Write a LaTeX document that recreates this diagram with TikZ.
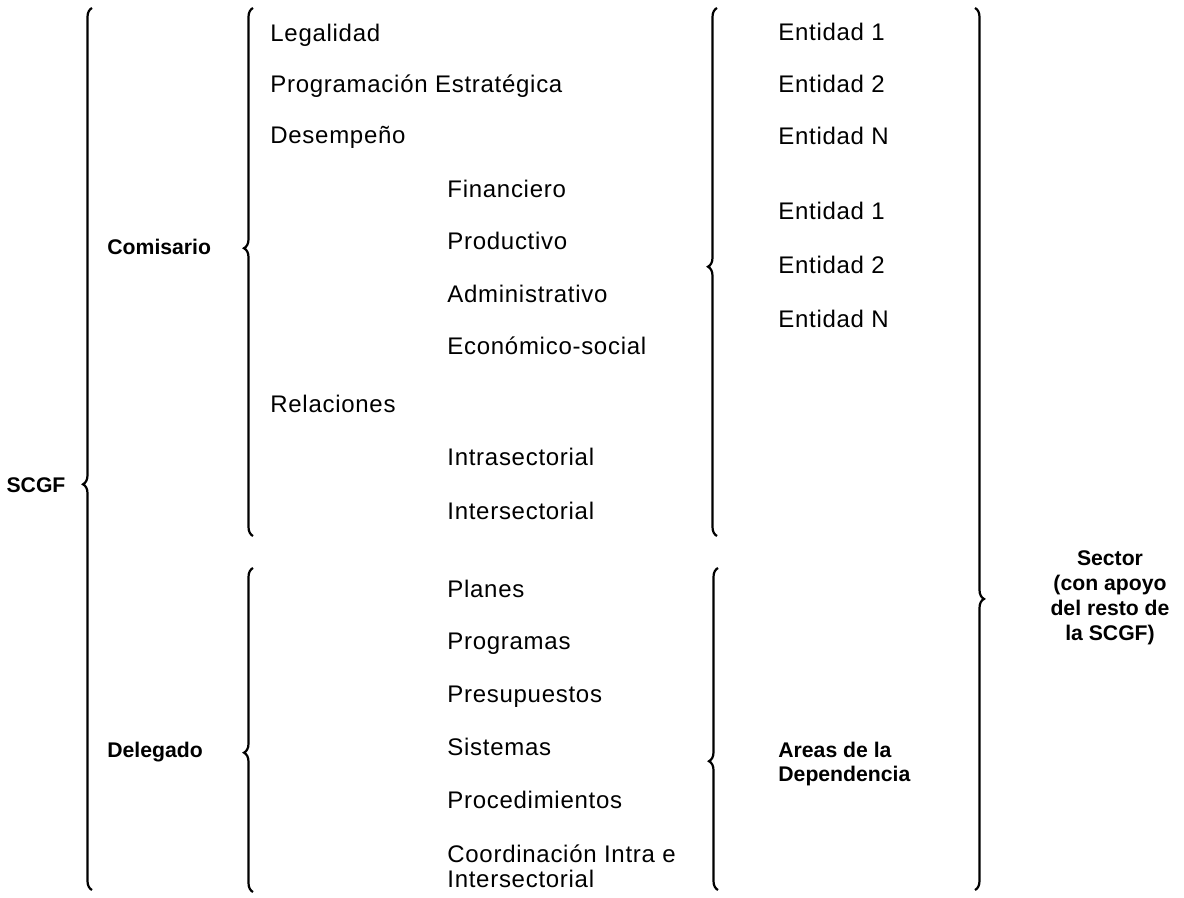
\documentclass[tikz,border=0pt]{standalone}
\usepackage{fontspec}
\setmainfont{Liberation Sans}[LetterSpace=3,BoldFeatures={LetterSpace=0}]
\usetikzlibrary{decorations.pathreplacing}

\begin{document}
\begin{tikzpicture}[x=0.5pt,y=-0.5pt,font=\fontsize{12}{12.5}\selectfont,
  item/.style={anchor=mid west,inner sep=0pt},
  head/.style={font=\fontsize{10.6}{11.6}\selectfont\bfseries,inner sep=0pt}]
\tikzstyle{bracel} = [line width=1.1pt,decorate,decoration={brace,amplitude=4.5pt}]

\useasboundingbox (0,0) rectangle (1184,898);

% labels on the left
\node (scgf) at (36,485) [head] {SCGF};
\node (com) at (107,249) [head,anchor=mid west] {Comisario};
\node (del) at (107,752) [head,anchor=mid west] {Delegado};

% second column
\node (leg) at (270,36) [item] {Legalidad};
\node (prog) at (270,87) [item] {Programación Estratégica};
\node (des) at (270,138) [item] {Desempeño};
\node (fin) at (447,192) [item] {Financiero};
\node (prod) at (447,244) [item] {Productivo};
\node (adm) at (447,297) [item] {Administrativo};
\node (eco) at (447,349) [item] {Económico-social};
\node (rel) at (270,407) [item] {Relaciones};
\node (intra) at (447,460) [item] {Intrasectorial};
\node (inter) at (447,514) [item] {Intersectorial};
\node (plan) at (447,592) [item] {Planes};
\node (pgm) at (447,644) [item] {Programas};
\node (pres) at (447,697) [item] {Presupuestos};
\node (sis) at (447,750) [item] {Sistemas};
\node (proc) at (447,803) [item] {Procedimientos};
\node (coor) at (447,866) [item,anchor=west,align=left] {Coordinación Intra e\\Intersectorial};

% third column
\node (ea1) at (778,35) [item] {Entidad 1};
\node (ea2) at (778,87) [item] {Entidad 2};
\node (ean) at (778,139) [item] {Entidad N};
\node (eb1) at (778,214) [item] {Entidad 1};
\node (eb2) at (778,268) [item] {Entidad 2};
\node (ebn) at (778,322) [item] {Entidad N};
\node (areas) at (778,764) [head,anchor=west,align=left] {Areas de la\\Dependencia};

% right label
\node (sector) at (1110,598) [head,align=center,font=\fontsize{10.6}{12.5}\selectfont\bfseries] {Sector\\(con apoyo\\del resto de\\la SCGF)};

% brace ends
\coordinate (b1s) at (92,890); \coordinate (b1e) at (92,8);
\coordinate (b2s) at (253,536); \coordinate (b2e) at (253,8);
\coordinate (b3s) at (253,892); \coordinate (b3e) at (253,568);
\coordinate (b4s) at (717,536); \coordinate (b4e) at (717,8);
\coordinate (b5s) at (718,890); \coordinate (b5e) at (718,568);
\coordinate (b6s) at (975,8); \coordinate (b6e) at (975,890);

\draw [bracel,decoration={aspect=0.46}] (b1s) -- (b1e);
\draw [bracel,decoration={aspect=0.545}] (b2s) -- (b2e);
\draw [bracel,decoration={aspect=0.43}] (b3s) -- (b3e);
\draw [bracel,decoration={aspect=0.51}] (b4s) -- (b4e);
\draw [bracel,decoration={aspect=0.40}] (b5s) -- (b5e);
\draw [bracel,decoration={aspect=0.67}] (b6s) -- (b6e);

\end{tikzpicture}
\end{document}
